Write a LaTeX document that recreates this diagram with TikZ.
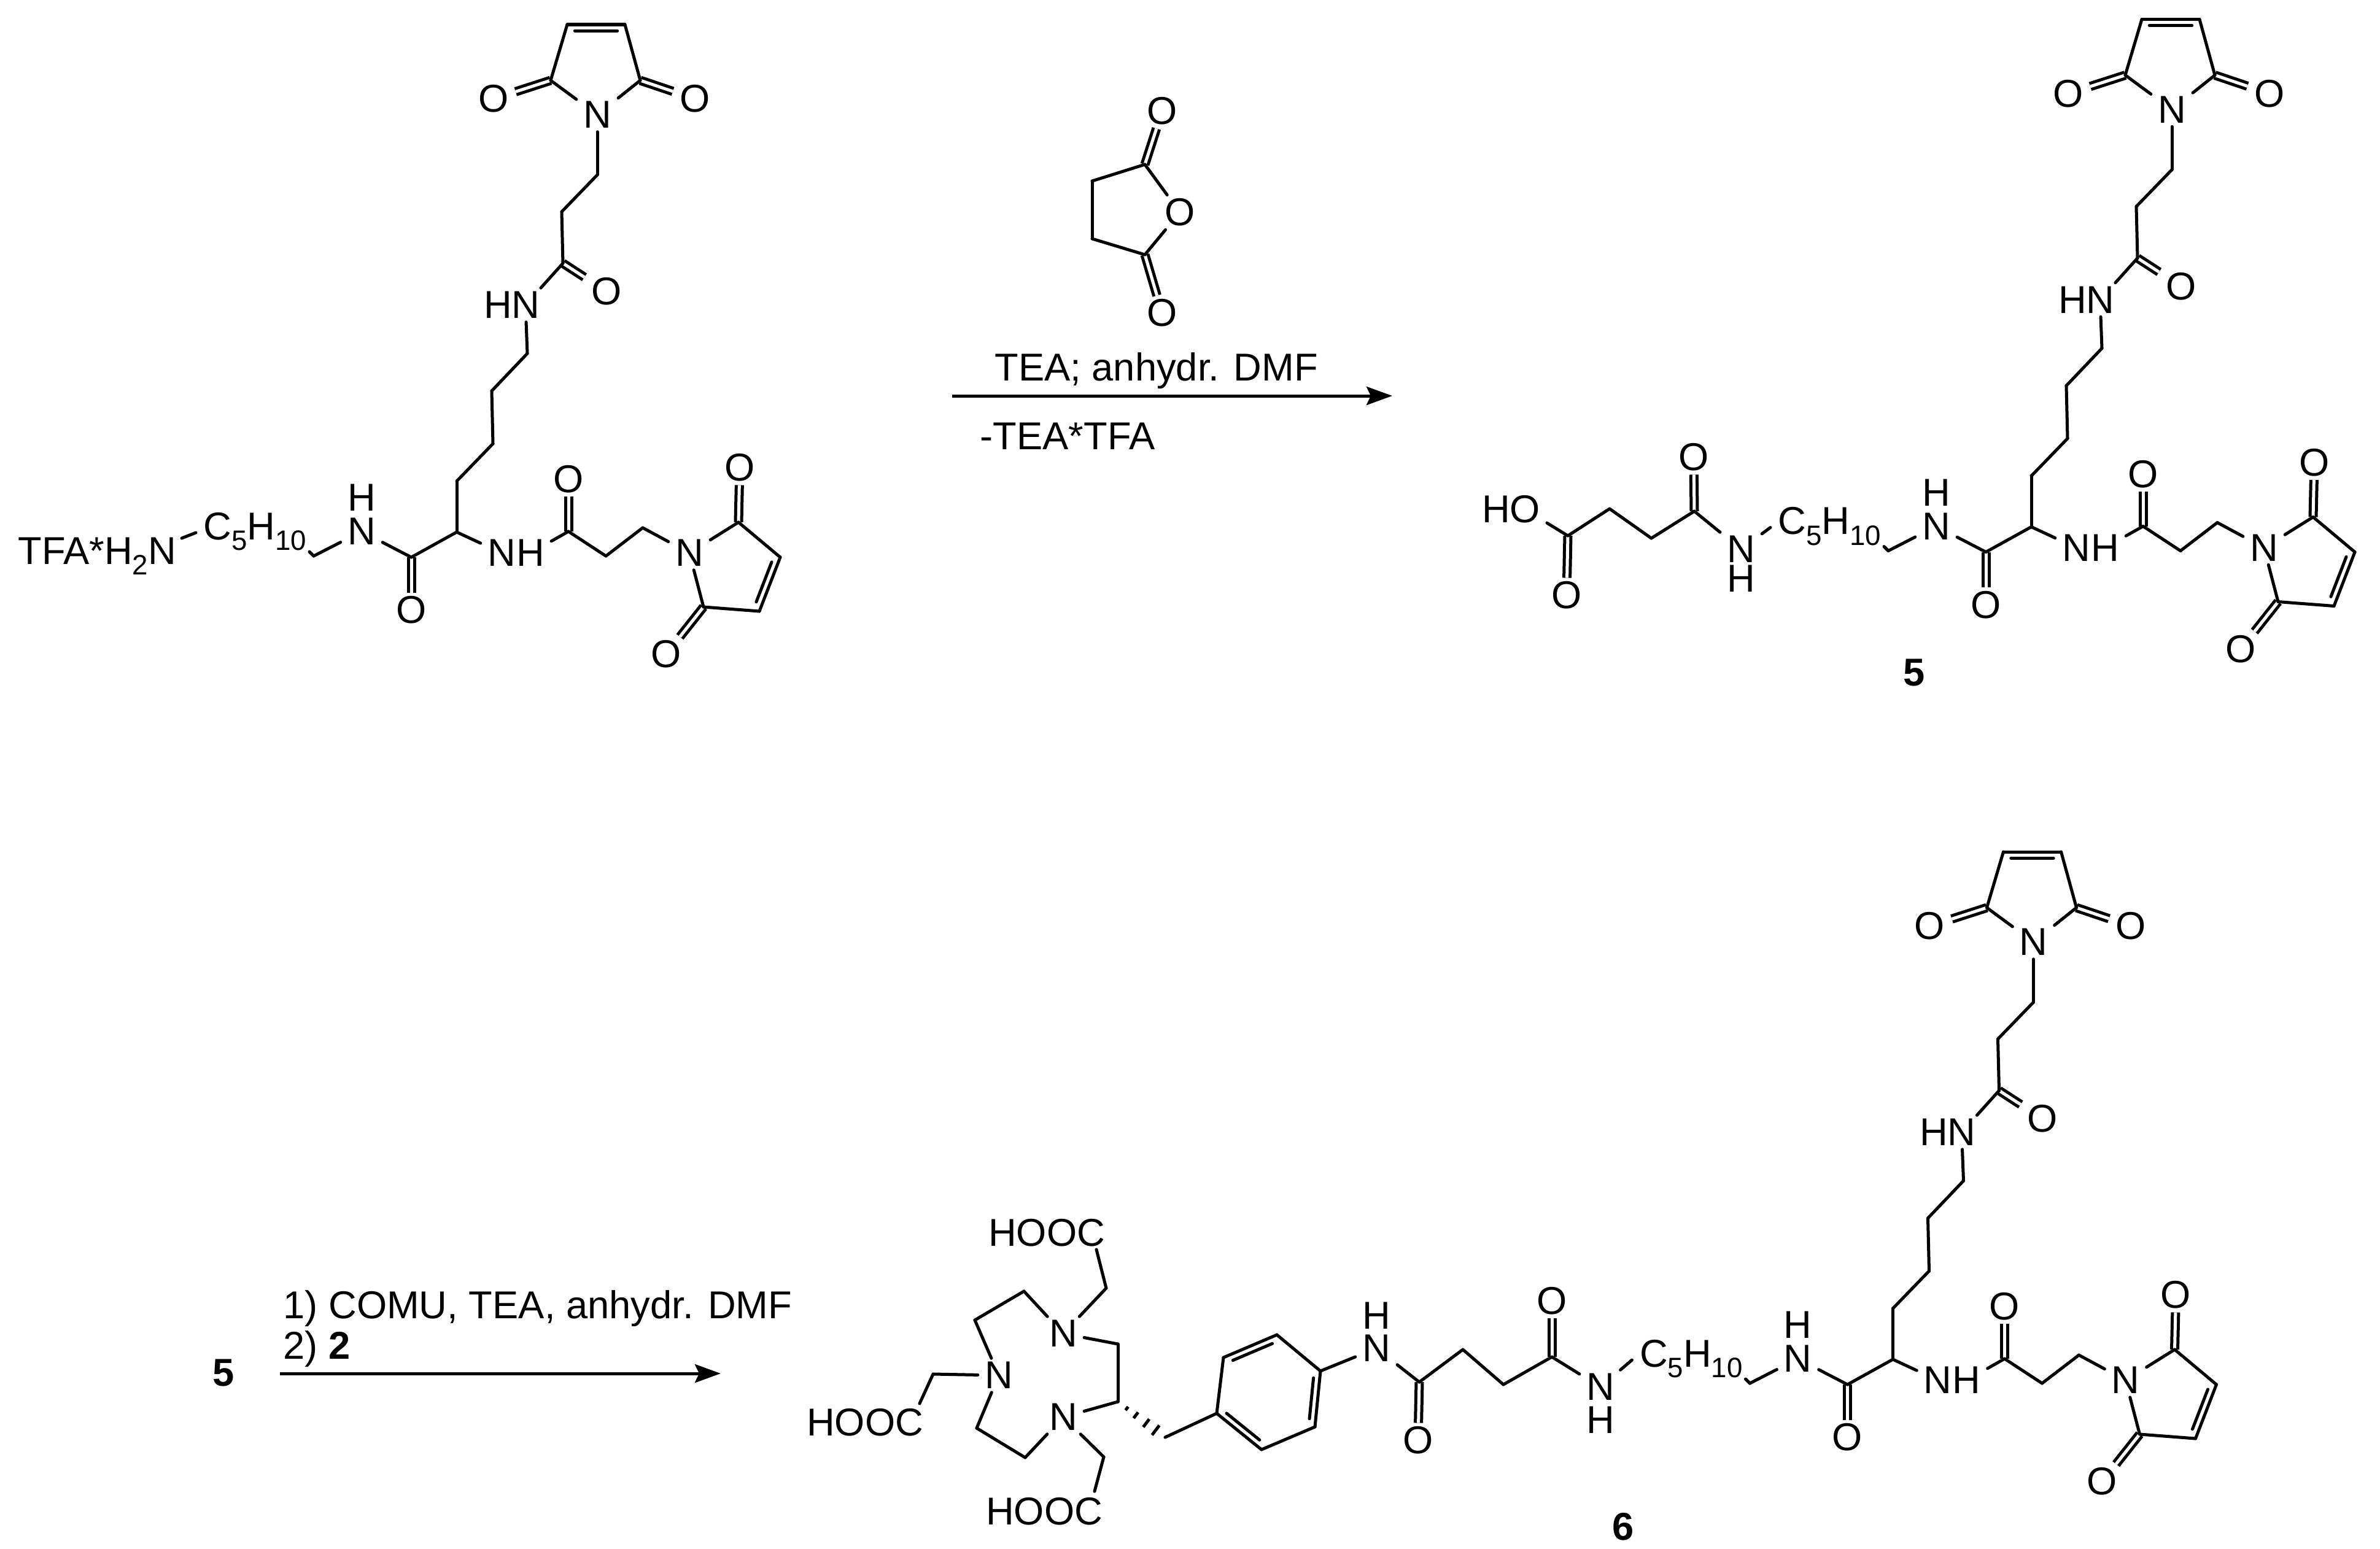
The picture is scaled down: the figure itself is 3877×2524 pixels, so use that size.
\documentclass[tikz,border=0pt]{standalone}
\usepackage{fontspec}
\setmainfont{Liberation Sans}
\usepackage{tikz}
\usetikzlibrary{calc,arrows.meta}
\newcommand{\chemfont}{\fontsize{18}{21}\selectfont}
\newcommand{\chemsub}[1]{\raisebox{-5pt}{\fontsize{13}{13}\selectfont #1}}
\newcommand{\ringbond}[2]{\draw ($(#1)!3.5pt!(#2)!2.9pt!-90:(#2)$) -- ($(#2)!3.5pt!(#1)!2.9pt!90:(#1)$);}
\tikzset{
atom/.style={inner xsep=2.5pt,inner ysep=1pt},
hlab/.style={inner sep=0pt},
txt/.style={inner sep=0pt,anchor=base west},
dbl/.style={double,double distance=0.05cm,line cap=butt},
rxn/.style={-{Stealth[length=0.42cm,width=0.3cm,inset=0.07cm]},line cap=butt},
pics/bismal/.style={code={
\coordinate (1) at (924,40);
\coordinate (2) at (1018,40);
\coordinate (3) at (897,131);
\coordinate (4) at (1043,131);
\node[atom] (5) at (973,187) {N};
\node[atom] (6) at (804,161) {O};
\node[atom] (7) at (1132,161) {O};
\coordinate (8) at (973,285);
\coordinate (9) at (915,345);
\coordinate (10) at (917,429);
\node[atom] (11) at (988,475) {O};
\node[atom] (12) at (856,497) {N};
\node[hlab] (13) at (811,497) {H};
\coordinate (14) at (859,576);
\coordinate (15) at (801,637);
\coordinate (16) at (803,723);
\coordinate (17) at (744,784);
\coordinate (18) at (744,867);
\coordinate (19) at (670,908);
\node[atom] (20) at (670,994) {O};
\node[atom] (21) at (589,866) {N};
\node[hlab] (22) at (589,811) {H};
\coordinate (23) at (511,906);
\node[txt] (24) at (329,879) {C\chemsub{5}H\chemsub{10}};
\node[atom] (25) at (817,901) {N};
\node[atom] (26) at (864,901) {H};
\coordinate (27) at (926,866);
\node[atom] (28) at (926,781) {O};
\coordinate (29) at (987,906);
\coordinate (30) at (1047,860);
\node[atom] (31) at (1123,901) {N};
\coordinate (32) at (1203,851);
\node[atom] (33) at (1205,762) {O};
\coordinate (34) at (1271,908);
\coordinate (35) at (1237,996);
\coordinate (36) at (1146,989);
\node[atom] (37) at (1085,1066) {O};
\coordinate (40) at (319,868);
\coordinate (41) at (504,899);
\path
(3) edge[dbl] (6)
(4) edge[dbl] (7)
(10) edge[dbl] (11)
(19) edge[dbl] (20)
(27) edge[dbl] (28)
(32) edge[dbl] (33)
(36) edge[dbl] (37);
\path
(1) edge (2)
(1) edge (3)
(2) edge (4)
(3) edge (5)
(4) edge (5)
(5) edge (8)
(8) edge (9)
(9) edge (10)
(10) edge (12)
(12) edge (14)
(14) edge (15)
(15) edge (16)
(16) edge (17)
(17) edge (18)
(18) edge (19)
(19) edge (21)
(21) edge (23)
(23) edge (41)
(18) edge (25)
(26) edge (27)
(27) edge (29)
(29) edge (30)
(30) edge (31)
(31) edge (32)
(32) edge (34)
(34) edge (35)
(35) edge (36)
(36) edge (31);
\ringbond{1}{2}
\ringbond{34}{35}
}}
}
\begin{document}
\begin{tikzpicture}[-, x=0.01cm, y=-0.01cm, line width=0.05cm, line cap=round, every node/.style={font=\chemfont}]
\useasboundingbox (0,0) rectangle (3877,2524);

\pic (a) at (0,0) {bismal};
\pic (b) at (2565,-8.5) {bismal};
\pic (c) at (2339.5,1348) {bismal};

\node[txt] (tfa) at (27,919) {TFA*H\chemsub{2}N};
\coordinate (tfa1) at (296,877);
\path (tfa1) edge (a40);

\coordinate (s1) at (1865,268);
\coordinate (s2) at (1779,295);
\coordinate (s3) at (1779,389);
\coordinate (s4) at (1865,415);
\node[atom] (s5) at (1922,346) {O};
\node[atom] (s6) at (1893,181) {O};
\node[atom] (s7) at (1893,510) {O};
\path
(s1) edge[dbl] (s6)
(s4) edge[dbl] (s7);
\path
(s1) edge (s2)
(s2) edge (s3)
(s3) edge (s4)
(s4) edge (s5)
(s5) edge (s1);
\node[txt] (t1) at (1618,620) {TEA; anhydr. DMF};
\coordinate (r1) at (1551,645);
\coordinate (r2) at (2268,645);
\draw[rxn] (r1) -- (r2);
\node[txt] (t2) at (1594,732) {-TEA*TFA};

\node[atom] (d1) at (2836,895) {N};
\node[hlab] (d2) at (2836,943) {H};
\coordinate (d3) at (2760,833);
\node[atom] (d4) at (2759,745) {O};
\coordinate (d5) at (2690,877);
\coordinate (d6) at (2622,829);
\coordinate (d7) at (2554,873);
\node[atom] (d8) at (2552,970) {O};
\node[atom] (d9) at (2484,830) {O};
\node[hlab] (d10) at (2437,830) {H};
\path
(d3) edge[dbl] (d4)
(d7) edge[dbl] (d8);
\path
(b40) edge (d1)
(d1) edge (d3)
(d3) edge (d5)
(d5) edge (d6)
(d6) edge (d7)
(d7) edge (d9);
\node[font=\chemfont\bfseries] (l5) at (3118,1096) {5};

\node[font=\chemfont\bfseries] (m5) at (364,2237) {5};
\node[txt] (t3) at (459,2148) {1) COMU, TEA, anhydr. DMF};
\node[txt] (t4) at (459,2214) {2) \textbf{2}};
\coordinate (r3) at (456,2238);
\coordinate (r4) at (1174,2238);
\draw[rxn] (r3) -- (r4);

\node[atom] (e1) at (2607,2260) {N};
\node[hlab] (e2) at (2607,2314) {H};
\coordinate (e3) at (2528,2211);
\node[atom] (e4) at (2528,2120) {O};
\coordinate (e5) at (2449,2256);
\coordinate (e6) at (2383,2199);
\coordinate (e7) at (2312,2252);
\node[atom] (e8) at (2310,2347) {O};
\node[atom] (e9) at (2242,2197) {N};
\node[hlab] (e10) at (2242,2144) {H};
\coordinate (e11) at (2151,2234);
\coordinate (e12) at (2080,2175);
\coordinate (e13) at (1993,2212);
\coordinate (e14) at (1982,2303);
\coordinate (e15) at (2055,2362);
\coordinate (e16) at (2142,2325);
\coordinate (e17) at (1898,2342);
\coordinate (e18) at (1821,2284);
\coordinate (e19) at (1821,2190);
\node[atom] (e20) at (1732,2173) {N};
\node[atom] (e21) at (1627,2241) {N};
\node[atom] (e22) at (1732,2309) {N};
\coordinate (e23) at (1668,2104);
\coordinate (e24) at (1588,2151);
\coordinate (e25) at (1591,2327);
\coordinate (e26) at (1670,2375);
\coordinate (e27) at (1802,2099);
\coordinate (e28) at (1786,2036);
\node (e29) at (1705,2009) {HOOC};
\coordinate (e30) at (1520,2239);
\coordinate (e31) at (1498,2287);
\node (e32) at (1409,2318) {HOOC};
\coordinate (e33) at (1798,2374);
\coordinate (e34) at (1783,2430);
\node (e35) at (1701,2463) {HOOC};
\path
(e3) edge[dbl] (e4)
(e7) edge[dbl] (e8);
\path
(c40) edge (e1)
(e1) edge (e3)
(e3) edge (e5)
(e5) edge (e6)
(e6) edge (e7)
(e7) edge (e9)
(e9) edge (e11)
(e11) edge (e12)
(e12) edge (e13)
(e13) edge (e14)
(e14) edge (e15)
(e15) edge (e16)
(e16) edge (e11)
(e14) edge (e17)
(e18) edge (e19)
(e19) edge (e20)
(e18) edge (e22)
(e20) edge (e23)
(e23) edge (e24)
(e24) edge (e21)
(e21) edge (e25)
(e25) edge (e26)
(e26) edge (e22)
(e20) edge (e27)
(e27) edge (e28)
(e21) edge (e30)
(e30) edge (e31)
(e22) edge (e33)
(e33) edge (e34);
\ringbond{e11}{e16}
\ringbond{e15}{e14}
\ringbond{e13}{e12}
\foreach \t/\w in {.19/1,.38/1.7,.6/2.3,.8/2.8}
\draw[line cap=butt] ($(e18)!\t!(e17)!\w pt!90:(e17)$) -- ($(e18)!\t!(e17)!\w pt!-90:(e17)$);
\node[font=\chemfont\bfseries] (l6) at (2644,2488) {6};
\end{tikzpicture}
\end{document}
